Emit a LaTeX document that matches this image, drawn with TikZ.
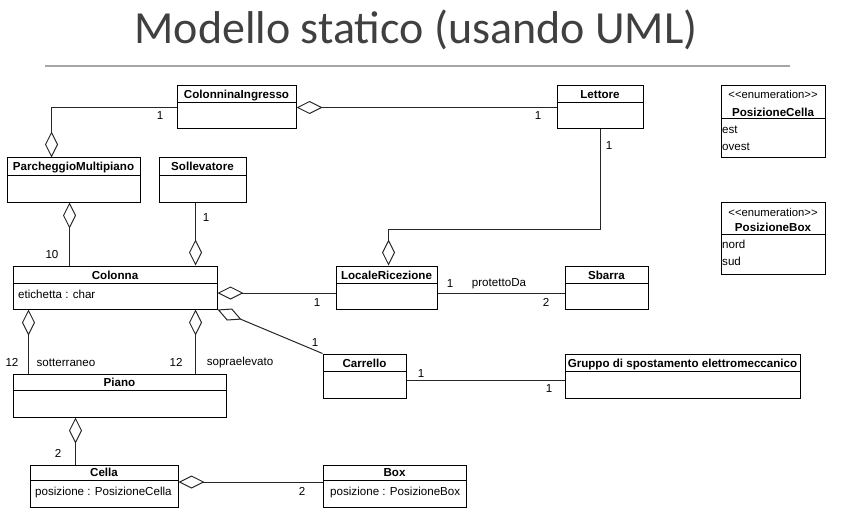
\documentclass[tikz,border=0pt]{standalone}
\usepackage{fontspec}
\setmainfont{Liberation Sans}
\newfontfamily\titlefont{Carlito}
\usetikzlibrary{arrows.meta,fit,calc}
\definecolor{linec}{HTML}{262626}
\definecolor{titlec}{HTML}{404040}
\definecolor{rulec}{HTML}{A6A6A6}
\tikzset{
  clsbox/.style={draw=black, line width=1pt, inner sep=0pt},
  clsline/.style={draw=black, line width=1pt},
  clsname/.style={font=\fontsize{11.6}{13}\selectfont\bfseries, inner sep=0pt, anchor=base},
  attr/.style={font=\fontsize{11.6}{13}\selectfont, inner sep=0pt, anchor=base west},
  stereo/.style={font=\fontsize{11.3}{13}\selectfont, inner sep=0pt, anchor=base},
  lbl/.style={font=\fontsize{11.6}{13}\selectfont, inner sep=0pt, text height=8.3pt, text depth=0pt},
  assoc/.style={draw=linec, line width=1pt},
  aggr/.style={assoc, {Diamond[open, length=26pt, width=13pt]}-},
}
\newcommand{\umlcls}[7]{%
  \node[clsbox, fit={(#2,#3) (#4,#5)}] (#1) {};
  \draw[clsline] (#2,#6) -- (#4,#6);
  \node[clsname] (#1-name) at ({(#2+#4)/2},{#6-4}) {#7};
}
\begin{document}
\begin{tikzpicture}[x=1pt,y=-1pt]
\useasboundingbox (0,0) rectangle (842,513);

% title
\node[font=\titlefont\fontsize{46}{50}\selectfont, text=titlec, anchor=base, inner sep=0pt] (title) at (416,44) {Modello statico (usando UML)};
\draw[rulec, line width=1.5pt] (45,66) -- (790,66);

% classes
\umlcls{ci}{177}{86}{296}{129}{103}{ColonninaIngresso}
\umlcls{let}{557}{86}{643}{129}{103}{Lettore}
\umlcls{pm}{7}{158}{140}{202}{175}{ParcheggioMultipiano}
\umlcls{sol}{159}{158}{246}{202}{175}{Sollevatore}
\umlcls{col}{13}{266}{217}{309}{283}{Colonna}
\umlcls{lr}{336}{266}{437}{309}{283}{LocaleRicezione}
\umlcls{sb}{565}{266}{648}{309}{283}{Sbarra}
\umlcls{car}{323}{354}{406}{398}{371}{Carrello}
\umlcls{gr}{565}{354}{800}{398}{371}{Gruppo di spostamento elettromeccanico}
\umlcls{pi}{13}{374}{226}{417}{390}{Piano}
\umlcls{ce}{30}{465}{178}{507}{480}{Cella}
\umlcls{bx}{323}{465}{466}{507}{480}{Box}

\node[attr] (col-a) at (18,298) {etichetta : char};
\node[attr] (ce-a) at (35,495) {posizione : PosizioneCella};
\node[attr] (bx-a) at (330,495) {posizione : PosizioneBox};

% enumerations
\node[clsbox, fit={(721,86) (825,158)}] (pc) {};
\node[stereo] (pc-st) at (773,99) {<\kern0pt<enumeration>\kern0pt>};
\node[clsname] (pc-name) at (773,116.5) {PosizioneCella};
\draw[clsline] (721,119) -- (825,119);
\node[attr] (pc-1) at (722,134) {est};
\node[attr] (pc-2) at (722,150) {ovest};

\node[clsbox, fit={(721,202) (825,274)}] (pb) {};
\node[stereo] (pb-st) at (773,216) {<\kern0pt<enumeration>\kern0pt>};
\node[clsname] (pb-name) at (773,231) {PosizioneBox};
\draw[clsline] (721,234) -- (825,234);
\node[attr] (pb-1) at (722,248) {nord};
\node[attr] (pb-2) at (722,265) {sud};

% connectors
\draw[aggr] ([xshift=45pt]pm.north west) |- (ci.west);
\draw[aggr] (ci.east) -- (let.west);
\draw[aggr] ([xshift=2pt]lr.north) -- ++(0,-36) -| (let.south);
\draw[aggr] ([xshift=63pt]pm.south west) coordinate (c1) -- (c1 |- col.north);
\draw[aggr] ([xshift=183pt]col.north west) coordinate (c2) -- (c2 |- sol.south);
\draw[aggr] ([yshift=-5.5pt]col.east) coordinate (c3) -- (c3 -| lr.west);
\draw[aggr] (col.south east) -- (car.north west);
\draw[aggr] ([xshift=16pt]col.south west) coordinate (c4) -- (c4 |- pi.north);
\draw[aggr] ([xshift=183pt]col.south west) coordinate (c5) -- (c5 |- pi.north);
\draw[assoc] ([yshift=-5.5pt]lr.east) coordinate (c6) -- (c6 -| sb.west);
\draw[assoc] ([yshift=-4pt]car.east) coordinate (c7) -- (c7 -| gr.west);
\draw[aggr] ([xshift=63pt]pi.south west) coordinate (c8) -- (c8 |- ce.north);
\draw[aggr] ([yshift=4pt]ce.east) coordinate (c9) -- (c9 -| bx.west);

% labels
\node[lbl] (m1) at (160,115) {1};
\node[lbl] (m2) at (538,115) {1};
\node[lbl] (m3) at (609,145) {1};
\node[lbl] (m4) at (52,254) {10};
\node[lbl] (m5) at (206,217) {1};
\node[lbl] (m6) at (317,302) {1};
\node[lbl] (m7) at (450,283) {1};
\node[lbl] (m8) at (499,282) {protettoDa};
\node[lbl] (m9) at (546,302) {2};
\node[lbl] (m10) at (315,342) {1};
\node[lbl] (m11) at (12,362) {12};
\node[lbl] (m12) at (66,362) {sotterraneo};
\node[lbl] (m13) at (176,362) {12};
\node[lbl] (m14) at (240,361) {sopraelevato};
\node[lbl] (m15) at (421,373) {1};
\node[lbl] (m16) at (549,388) {1};
\node[lbl] (m17) at (58,453) {2};
\node[lbl] (m18) at (302,491) {2};
\end{tikzpicture}
\end{document}
